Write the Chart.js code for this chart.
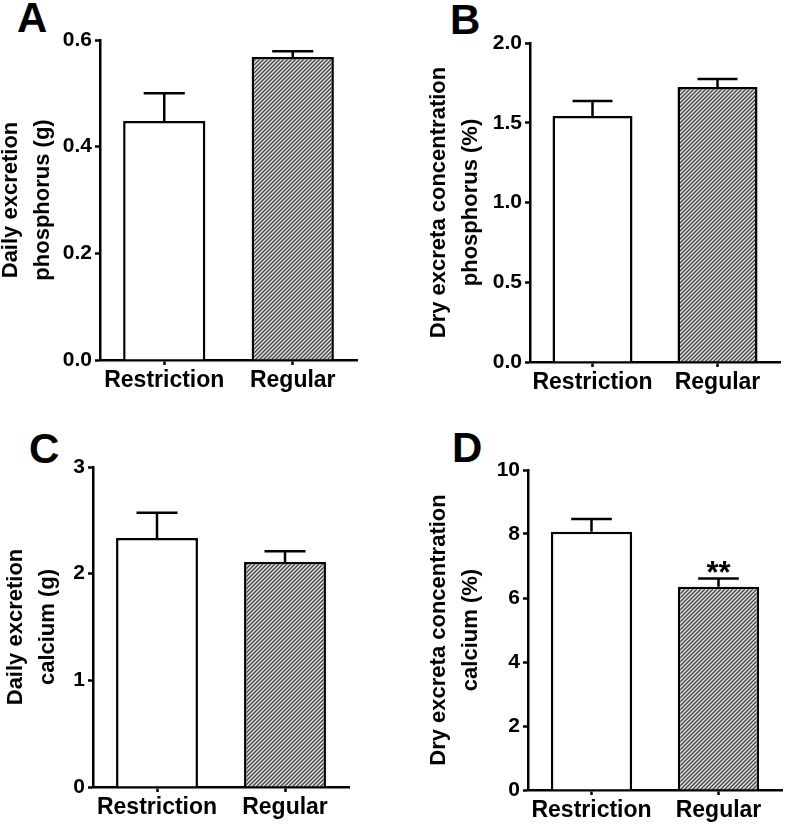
<!DOCTYPE html>
<html>
<head>
<meta charset="utf-8">
<script src="https://cdn.jsdelivr.net/npm/chart.js@4.4.1/dist/chart.umd.min.js"></script>
<style>
    body { margin: 0; background: #fff; }
    #wrap { position: relative; width: 790px; height: 825px; overflow: hidden; }
    canvas { position: absolute; }
    .lbl { position: absolute; font: bold 42px/42px 'Liberation Sans', Arial, sans-serif; color: #000; }
</style>
</head>
<body>
<div id="wrap">
    <div class="lbl" style="left:17px; top:-3px;">A</div>
    <div class="lbl" style="left:450px; top:-1px;">B</div>
    <div class="lbl" style="left:29px; top:428px;">C</div>
    <div class="lbl" style="left:452px; top:427px;">D</div>
    <canvas id="chartA" width="400" height="410" style="left:-5px; top:0px;"></canvas>
    <canvas id="chartB" width="367" height="410" style="left:423px; top:0px;"></canvas>
    <canvas id="chartC" width="395" height="410" style="left:0px; top:415px;"></canvas>
    <canvas id="chartD" width="367" height="410" style="left:423px; top:415px;"></canvas>
</div>
<script>
    const categories = ['Restriction', 'Regular'];

    // A: daily excretion phosphorus (g)
    const phosDaily = [0.448, 0.568];
    const phosDailySem = [0.052, 0.011];
    // B: dry excreta concentration phosphorus (%)
    const phosConc = [1.542, 1.724];
    const phosConcSem = [0.094, 0.05];
    // C: daily excretion calcium (g)
    const calDaily = [2.334, 2.11];
    const calDailySem = [0.236, 0.10];
    // D: dry excreta concentration calcium (%)
    const calConc = [8.07, 6.35];
    const calConcSem = [0.40, 0.26];
    const calConcStars = ['', '**'];

    Chart.defaults.font.family = "'Liberation Sans', Arial, sans-serif";
    Chart.defaults.color = '#000';

    function hatchPattern() {
        const c = document.createElement('canvas');
        c.width = 4;
        c.height = 4;
        const g = c.getContext('2d');
        g.fillStyle = '#e0e0e0';
        g.fillRect(0, 0, 4, 4);
        g.strokeStyle = '#444';
        g.lineWidth = 1.3;
        g.beginPath();
        g.moveTo(-1, 5); g.lineTo(5, -1);
        g.moveTo(-3, 3); g.lineTo(3, -3);
        g.moveTo(1, 7); g.lineTo(7, 1);
        g.stroke();
        return g.createPattern(c, 'repeat');
    }

    function makePanel(id, p) {
        const errorBars = {
            id: 'errorBars',
            afterDatasetsDraw(chart) {
                const ctx = chart.ctx;
                const ys = chart.scales.y;
                const meta = chart.getDatasetMeta(0);
                meta.data.forEach((bar, i) => {
                    const top = ys.getPixelForValue(p.values[i] + p.sem[i]);
                    const half = bar.width / 4;
                    ctx.save();
                    ctx.strokeStyle = '#000';
                    ctx.lineWidth = 2.5;
                    ctx.beginPath();
                    ctx.moveTo(bar.x, bar.y);
                    ctx.lineTo(bar.x, top);
                    ctx.moveTo(bar.x - half, top);
                    ctx.lineTo(bar.x + half, top);
                    ctx.stroke();
                    if (p.stars && p.stars[i]) {
                        ctx.fillStyle = '#000';
                        ctx.font = "bold 31px 'Liberation Sans', Arial, sans-serif";
                        ctx.textAlign = 'center';
                        ctx.textBaseline = 'alphabetic';
                        ctx.fillText(p.stars[i], bar.x, top + 5);
                    }
                    ctx.restore();
                });
            }
        };

        return new Chart(document.getElementById(id), {
            type: 'bar',
            data: {
                labels: categories,
                datasets: [{
                    data: p.values,
                    backgroundColor: ['#ffffff', hatchPattern()],
                    borderColor: '#000',
                    borderWidth: 2.5,
                    barPercentage: 0.64,
                    categoryPercentage: 1
                }]
            },
            options: {
                responsive: false,
                animation: false,
                devicePixelRatio: 1,
                layout: {
                    padding: { left: 0, top: p.padTop, right: p.padRight, bottom: 0 }
                },
                plugins: {
                    legend: { display: false },
                    tooltip: { enabled: false }
                },
                scales: {
                    x: {
                        offset: true,
                        ticks: {
                            color: '#000',
                            padding: 2,
                            autoSkip: false,
                            maxRotation: 0,
                            minRotation: 0,
                            font: { size: 23, weight: 'bold' }
                        },
                        grid: {
                            offset: false,
                            drawOnChartArea: false,
                            tickLength: 5,
                            tickWidth: 2.5,
                            tickColor: '#000'
                        },
                        border: { color: '#000', width: 2.5 },
                        afterFit: s => { s.height = p.xHeight; }
                    },
                    y: {
                        min: 0,
                        max: p.max,
                        ticks: {
                            stepSize: p.step,
                            color: '#000',
                            padding: 3,
                            font: { size: 21, weight: 'bold' },
                            callback: v => v.toFixed(p.dec)
                        },
                        grid: {
                            drawOnChartArea: false,
                            tickLength: 5,
                            tickWidth: 2.5,
                            tickColor: '#000'
                        },
                        border: { color: '#000', width: 2.5 },
                        title: {
                            display: true,
                            text: p.title,
                            color: '#000',
                            padding: 0,
                            font: { size: 22, weight: 'bold', lineHeight: 1.45 }
                        },
                        afterFit: s => { s.width = p.yWidth; }
                    }
                }
            },
            plugins: [errorBars]
        });
    }

    makePanel('chartA', {
        values: phosDaily, sem: phosDailySem, max: 0.6, step: 0.2, dec: 1,
        title: ['Daily excretion', 'phosphorus (g)'],
        yWidth: 105, padTop: 40, padRight: 38, xHeight: 50
    });
    makePanel('chartB', {
        values: phosConc, sem: phosConcSem, max: 2.0, step: 0.5, dec: 1,
        title: ['Dry excreta concentration', 'phosphorus (%)'],
        yWidth: 107, padTop: 43, padRight: 10, xHeight: 48
    });
    makePanel('chartC', {
        values: calDaily, sem: calDailySem, max: 3, step: 1, dec: 0,
        title: ['Daily excretion', 'calcium (g)'],
        yWidth: 93, padTop: 52, padRight: 46, xHeight: 38
    });
    makePanel('chartD', {
        values: calConc, sem: calConcSem, stars: calConcStars, max: 10, step: 2, dec: 0,
        title: ['Dry excreta concentration', 'calcium (%)'],
        yWidth: 105, padTop: 55, padRight: 8, xHeight: 35
    });
</script>
</body>
</html>
